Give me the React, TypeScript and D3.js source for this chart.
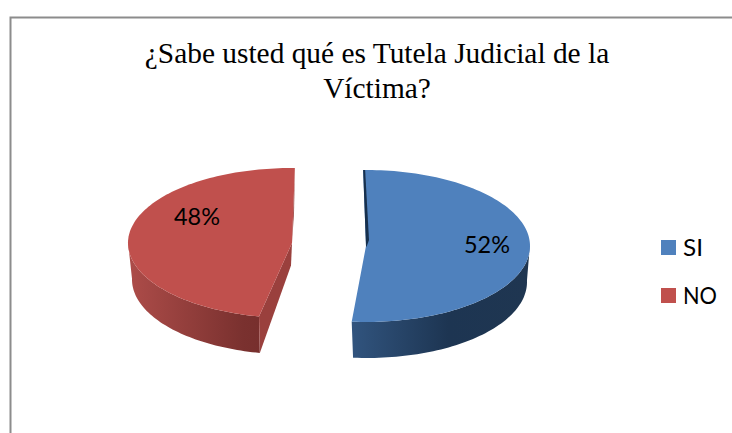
import React from "react";
import * as d3 from "d3";

const titleLines = ["¿Sabe usted qué es Tutela Judicial de la", "Víctima?"];
const categories = ["SI", "NO"];
const values = [52, 48];
const labels = ["52%", "48%"];
const topColors = ["#4f81bd", "#c0504d"];
const innerColors = ["#17304d", "#9a403d"];
const rimStops = [
  ["#31547e", "#1d3552", "#1f3651"],
  ["#ab4b48", "#7a312f", "#772f2d"],
];

// Exploded, tilted slice placement (perspective makes each slice's span differ slightly)
const slices = [
  { cx: 366, cy: 246, rx: 164, ry: 76, bx: 367, by: 282, brx: 160, bry: 76, a0: -1, a1: 185, lx: 487, ly: 253 },
  { cx: 292, cy: 243, rx: 164, ry: 75, bx: 292, by: 279.5, brx: 160, bry: 75, a0: 191.6, a1: 361, lx: 197, ly: 225 },
];
const labelWidth = 46;
const legendWidths = [20, 34];

const W = 732;
const H = 433;

const arcs = d3.pie<number>().sort(null)(values);
const line = d3.line<[number, number]>().x((d) => d[0]).y((d) => d[1]);

export default function App() {
  return (
    <svg width={W} height={H} style={{ position: "absolute", left: 0, top: 0, background: "#fff" }}>
      <defs>
        {rimStops.map((stops, i) => (
          <linearGradient key={i} id={`rim${i}`} gradientUnits="userSpaceOnUse"
            x1={i === 0 ? 352 : 133} x2={i === 0 ? 527 : 262} y1={0} y2={0}>
            {stops.map((c, j) => (
              <stop key={j} offset={i === 0 ? [0, 0.55, 1][j] : [0, 0.85, 1][j]} stopColor={c} />
            ))}
          </linearGradient>
        ))}
      </defs>
      <path d={`M732 17.5H10.5V433`} fill="none" stroke="#8c8c8c" strokeWidth={2} />
      {titleLines.map((t, i) => (
        <text key={i} x={377} y={63 + i * 35} textAnchor="middle" fontFamily="'Liberation Serif'" fontSize={29.4} fill="#000">
          {t}
        </text>
      ))}
      {arcs.map((a, i) => {
        const s = slices[i];
        const ang = d3.scaleLinear().domain([a.startAngle, a.endAngle]).range([s.a0, s.a1]);
        const samples = d3.range(0, 121).map((k) => (ang(a.startAngle + ((a.endAngle - a.startAngle) * k) / 120) * Math.PI) / 180);
        const top = samples.map((t): [number, number] => [s.cx + s.rx * Math.sin(t), s.cy - s.ry * Math.cos(t)]);
        const bot = samples.map((t): [number, number] => [s.bx + s.brx * Math.sin(t), s.by - s.bry * Math.cos(t)]);
        // rim: only the part of the edge facing the viewer
        const front = samples.map((t, k) => ({ t, k })).filter((d) => Math.cos(d.t) <= 0.02).map((d) => d.k);
        const rim: [number, number][] = [...front.map((k) => top[k]), ...front.map((k) => bot[k]).reverse()];
        const hub: [number, number] = [s.cx, s.cy];
        // the visible cut faces
        const innerBack: [number, number][] = i === 1
          ? [top[0], hub, [s.bx - 1, s.by - 14], bot[0]]
          : [];
        const innerSliver: [number, number][] = i === 0
          ? [top[0], [top[0][0] + 2, top[0][1]], [s.cx + 3, s.cy - 6], [s.cx + 0.5, s.cy + 1], hub]
          : [top[120], hub, [s.cx + 2, s.cy - 30]];
        return (
          <g key={i}>
            <path d={line(rim) + "Z"} fill={`url(#rim${i})`} />
            {innerBack.length > 0 && <path d={line(innerBack) + "Z"} fill={innerColors[i]} />}
            <path d={line([hub, ...top]) + "Z"} fill={topColors[i]} />
            <path d={line(innerSliver) + "Z"} fill={innerColors[i]} />
            <text x={s.lx} y={s.ly} textAnchor="middle" fontFamily="Lato, 'Open Sans'" fontSize={23.5}
              textLength={labelWidth} lengthAdjust="spacingAndGlyphs" fill="#000">
              {labels[i]}
            </text>
          </g>
        );
      })}
      {categories.map((c, i) => (
        <g key={c}>
          <rect x={661} y={240 + i * 48} width={15} height={15} fill={topColors[i]} />
          <text x={683} y={256 + i * 48} fontFamily="Lato, 'Open Sans'" fontSize={23.5}
            textLength={legendWidths[i]} lengthAdjust="spacingAndGlyphs" fill="#000">
            {c}
          </text>
        </g>
      ))}
    </svg>
  );
}
